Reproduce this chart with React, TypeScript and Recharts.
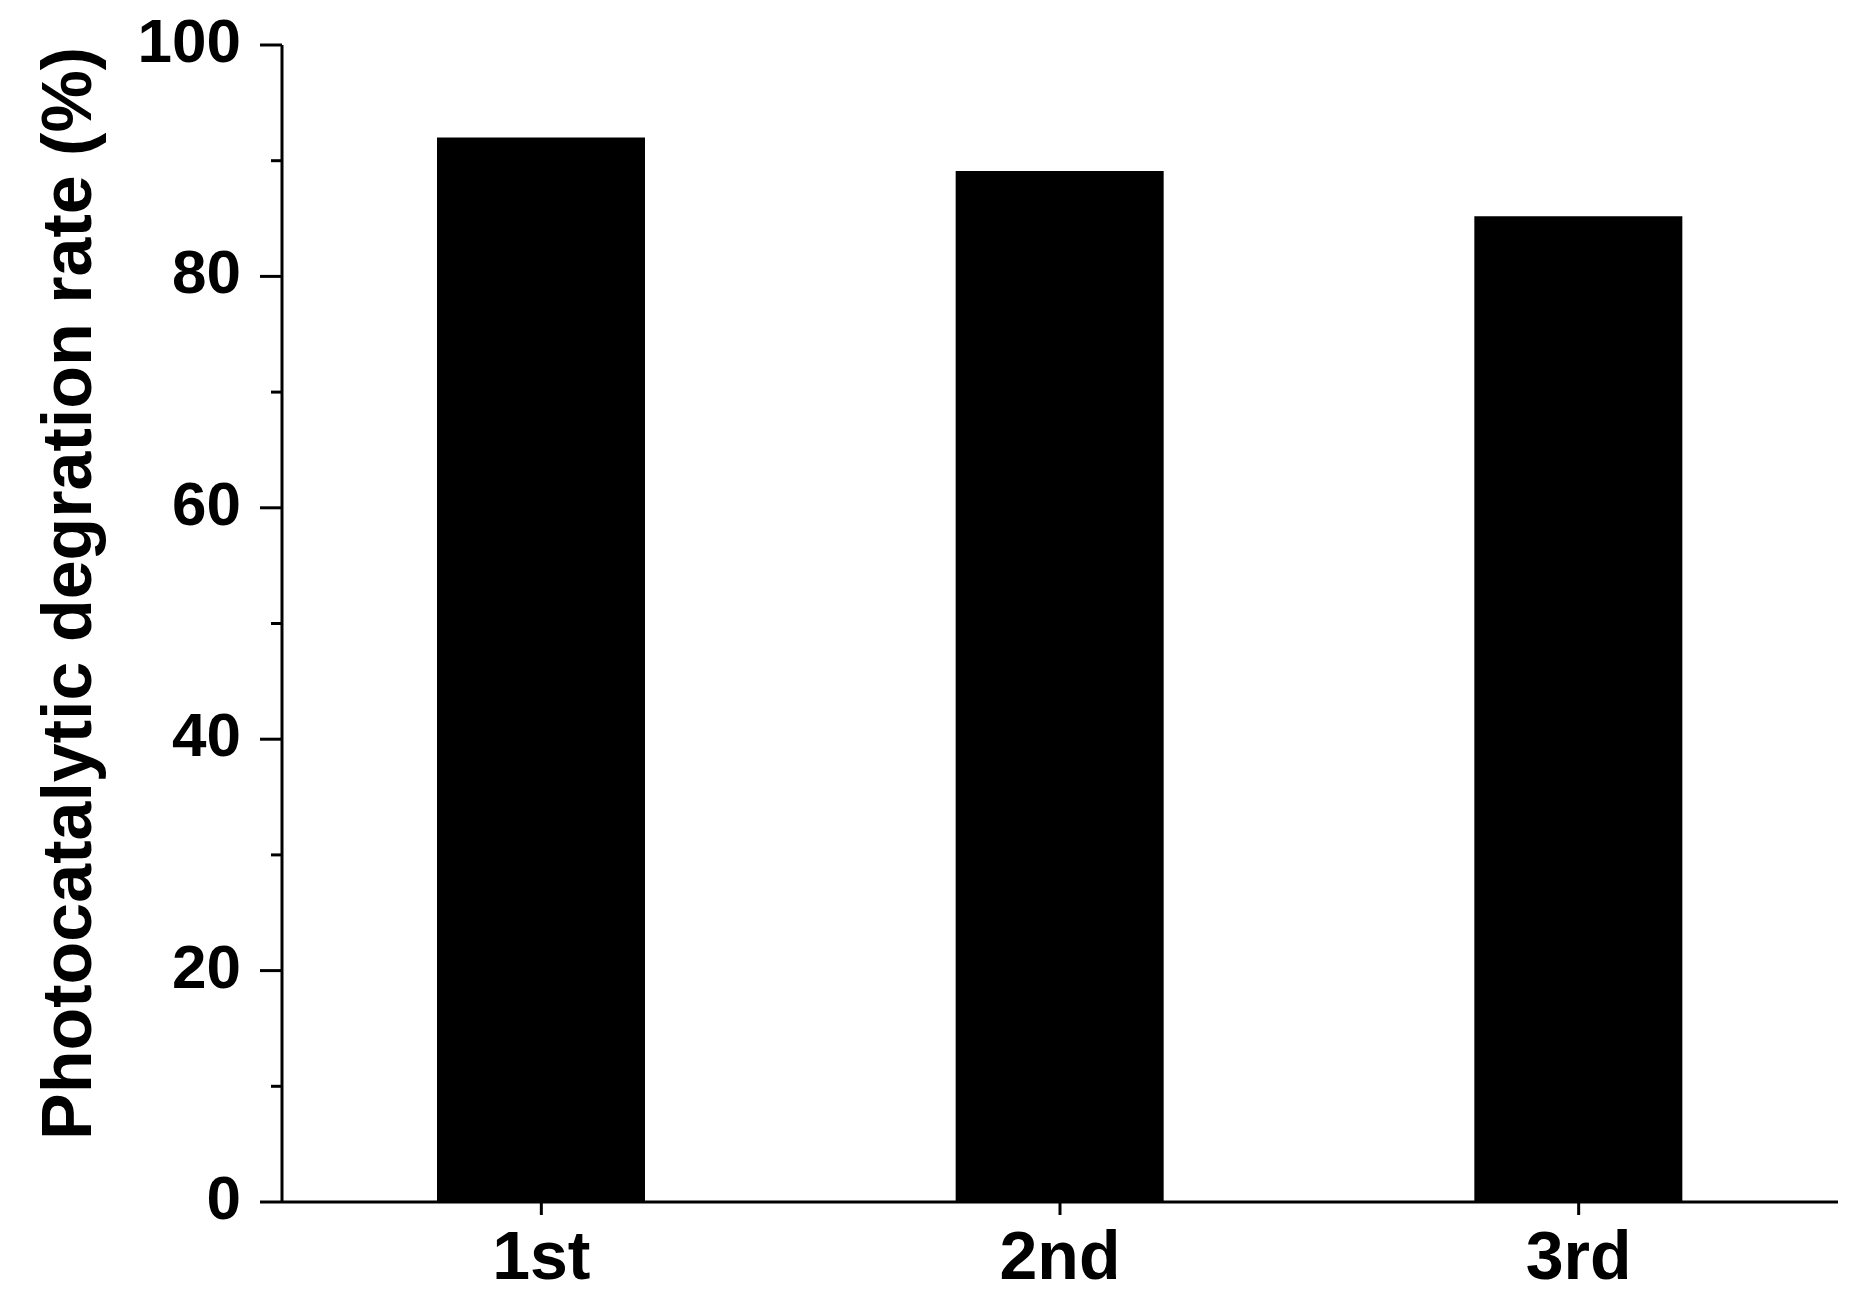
import { BarChart, Bar, XAxis, YAxis, Label } from 'recharts'

const cycles = ['1st', '2nd', '3rd']
const rates = [92.0, 89.1, 85.2]
const yTicks = [0, 10, 20, 30, 40, 50, 60, 70, 80, 90, 100]

const data = cycles.map((c, i) => ({ cycle: c, rate: rates[i] }))

const FONT = '"Liberation Sans", Arial, sans-serif'

function YTick(props: any) {
  const { x, y, payload } = props
  const major = payload.value % 20 === 0
  return (
    <g>
      <line x1={x - (major ? 22 : 11)} x2={x} y1={y} y2={y} stroke="#000" strokeWidth={3} />
      {major && (
        <text x={x - 41} y={y} dy={17} textAnchor="end" fontFamily={FONT} fontWeight="bold" fontSize={62} fill="#000">
          {payload.value}
        </text>
      )}
    </g>
  )
}

function XTick(props: any) {
  const { x, y, payload } = props
  return (
    <text x={x} y={y} dy={64} textAnchor="middle" fontFamily={FONT} fontWeight="bold" fontSize={68} fill="#000">
      {payload.value}
    </text>
  )
}

function YLabel(props: any) {
  const { viewBox } = props
  const cx = viewBox.x + 91
  const cy = viewBox.y + viewBox.height / 2 - 30
  return (
    <text
      x={cx}
      y={cy}
      transform={`rotate(-90, ${cx}, ${cy})`}
      textAnchor="middle"
      fontFamily={FONT}
      fontWeight="bold"
      fontSize={70}
      fill="#000"
    >
      Photocatalytic degration rate (%)
    </text>
  )
}

export default function App() {
  return (
    <div style={{ position: 'absolute', left: 0, top: 0, width: 1872, height: 1297, background: '#fff' }}>
      <BarChart width={1872} height={1297} data={data} margin={{ top: 45, right: 34, left: 0, bottom: 0 }}>
        <XAxis
          dataKey="cycle"
          height={95}
          axisLine={{ stroke: '#000', strokeWidth: 3 }}
          tickLine={{ stroke: '#000', strokeWidth: 3 }}
          tickSize={13}
          tickMargin={0}
          tick={<XTick />}
          interval={0}
        />
        <YAxis
          type="number"
          domain={[0, 100]}
          ticks={yTicks}
          interval={0}
          width={282}
          axisLine={{ stroke: '#000', strokeWidth: 3 }}
          tickLine={false}
          tickSize={0}
          tickMargin={0}
          tick={<YTick />}
        >
          <Label content={<YLabel />} />
        </YAxis>
        <Bar dataKey="rate" fill="#000" barSize={208} isAnimationActive={false} />
      </BarChart>
    </div>
  )
}
